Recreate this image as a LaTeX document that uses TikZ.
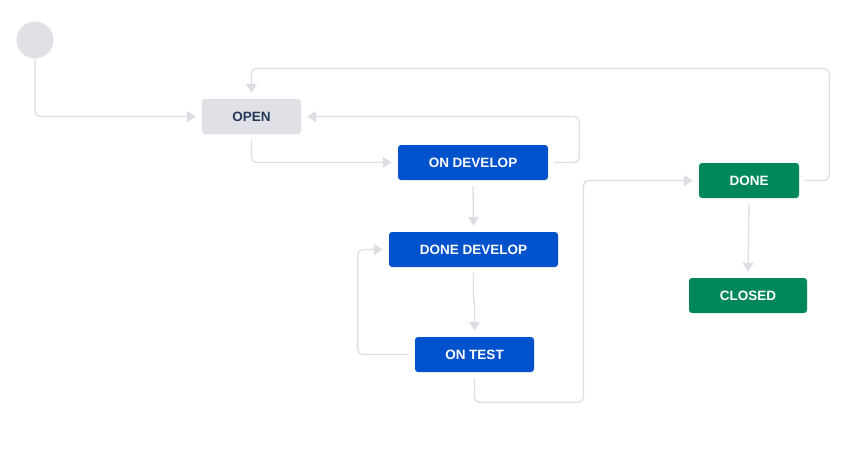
\documentclass[tikz,border=0pt]{standalone}
\usepackage{fontspec}
\setmainfont{Liberation Sans}
\usetikzlibrary{arrows.meta}
\definecolor{jblue}{HTML}{0052CC}
\definecolor{jgreen}{HTML}{00875A}
\definecolor{jgray}{HTML}{DFE1E6}
\definecolor{jtext}{HTML}{253858}
\definecolor{jline}{HTML}{DCDEE3}
\tikzset{
  status/.style={rectangle, rounded corners=3pt, minimum height=35pt, inner sep=0pt,
    font=\fontsize{13.5}{16}\selectfont\bfseries, text=white},
  bluebox/.style={status, fill=jblue},
  greenbox/.style={status, fill=jgreen},
  graybox/.style={status, fill=jgray, text=jtext},
  conn/.style={draw=jline, line width=1.3pt, rounded corners=5pt,
    -{Triangle[length=9pt,width=11pt]}, color=jline},
}
\begin{document}
\begin{tikzpicture}[x=1pt,y=-1pt]
\useasboundingbox (0,0) rectangle (866,455);
\node[circle, fill=jgray, minimum size=37pt, inner sep=0pt] (start) at (35,40) {};
\node[graybox, minimum width=99pt] (open) at (251.5,116.5) {OPEN};
\node[bluebox, minimum width=150pt] (ondev) at (473,162.5) {ON DEVELOP};
\node[bluebox, minimum width=169pt] (donedev) at (473.5,249.5) {DONE DEVELOP};
\node[bluebox, minimum width=119pt] (ontest) at (474.5,354.5) {ON TEST};
\node[greenbox, minimum width=100pt] (done) at (749,180.5) {DONE};
\node[greenbox, minimum width=118pt] (closed) at (748,295.5) {CLOSED};

\draw[conn] (start.south) |- ([xshift=-6pt]open.west);
\draw[conn] ([yshift=-6pt]open.south) |- ([xshift=-6pt]ondev.west);
\draw[conn] ([xshift=6pt]ondev.east) -- ++(25,0) |- ([xshift=6pt]open.east);
\draw[conn] ([yshift=-6pt]ondev.south) -- ([yshift=6pt]donedev.north);
\draw[conn, sharp corners] ([yshift=-6pt]donedev.south) -- ++(0,26) -- ++(1,4) -- ([yshift=6pt]ontest.north);
\draw[conn] ([xshift=-6pt]ontest.west) -- ++(-51,0) |- ([xshift=-6pt]donedev.west);
\draw[conn] ([yshift=-6pt]ontest.south) -- ++(0,24) -- ++(109,0) |- ([xshift=-6pt]done.west);
\draw[conn] ([xshift=6pt]done.east) -- ++(24,0) -- ++(0,-112) -| ([yshift=6pt]open.north);
\draw[conn] ([yshift=-6pt]done.south) -- ([yshift=6pt]closed.north);
\end{tikzpicture}
\end{document}
